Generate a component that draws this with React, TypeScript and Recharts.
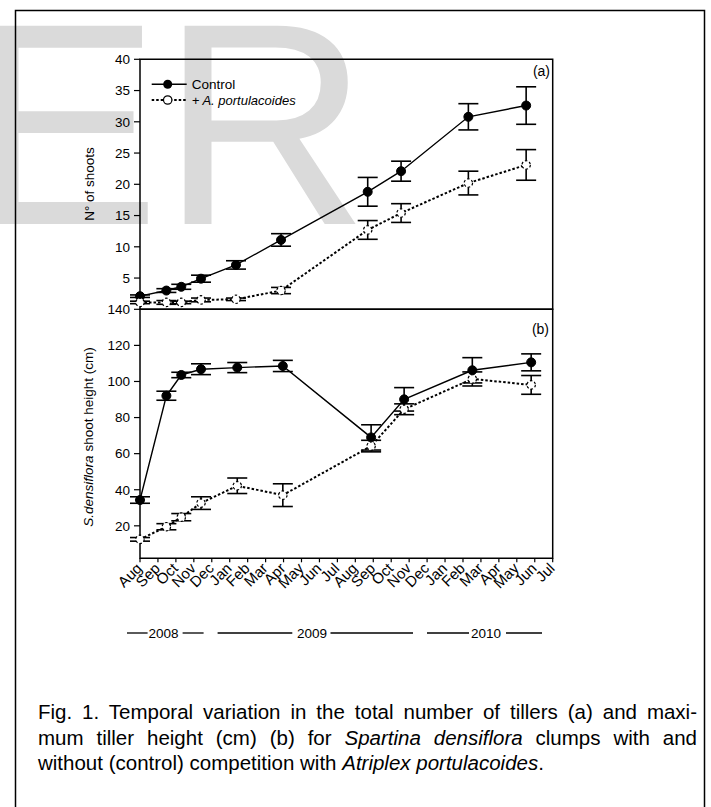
import React from 'react';
import { LineChart, Line, XAxis, YAxis, ErrorBar, ReferenceArea } from 'recharts';

const FONT = '"Liberation Sans", Arial, Helvetica, sans-serif';

const monthLabels = ['Aug', 'Sep', 'Oct', 'Nov', 'Dec', 'Jan', 'Feb', 'Mar', 'Apr', 'May', 'Jun', 'Jul',
  'Aug', 'Sep', 'Oct', 'Nov', 'Dec', 'Jan', 'Feb', 'Mar', 'Apr', 'May', 'Jun', 'Jul'];
const monthTicks = monthLabels.map((_, i) => i);

const shootTicks = [5, 10, 15, 20, 25, 30, 35, 40];
const heightTicks = [20, 40, 60, 80, 100, 120, 140];

// (a) number of shoots
const shootMonths = [0, 1.47, 2.3, 3.4, 5.35, 7.86, 12.69, 14.55, 18.3, 21.52];
const shootControl = [2.1, 3.0, 3.6, 4.9, 7.1, 11.1, 18.8, 22.1, 30.8, 32.6];
const shootControlErr = [0.2, 0.3, 0.4, 0.56, 0.67, 1.0, 2.3, 1.6, 2.1, 3.0];
const shootComp = [1.1, 1.1, 1.1, 1.5, 1.6, 3.0, 12.7, 15.4, 20.2, 23.1];
const shootCompErr = [0.2, 0.3, 0.2, 0.3, 0.2, 0.5, 1.5, 1.5, 1.9, 2.45];

// (b) shoot height
const heightMonths = [0, 1.47, 2.3, 3.4, 5.42, 7.96, 12.88, 14.72, 18.52, 21.8];
const heightControl = [34.3, 92.1, 103.6, 106.8, 107.7, 108.6, 69.0, 90.1, 106.2, 110.6];
const heightControlErr = [1.8, 2.5, 1.5, 3.0, 2.8, 3.1, 7.0, 6.5, 7.0, 4.7];
const heightComp = [12.5, 19.5, 24.8, 32.6, 42.2, 37.0, 64.2, 84.6, 101.4, 98.1];
const heightCompErr = [1.0, 1.7, 2.0, 3.5, 4.3, 6.3, 3.2, 3.0, 3.9, 5.2];

const shootData = shootMonths.map((m, i) => ({
  m, control: shootControl[i], controlErr: shootControlErr[i], comp: shootComp[i], compErr: shootCompErr[i],
}));
const heightData = heightMonths.map((m, i) => ({
  m, control: heightControl[i], controlErr: heightControlErr[i], comp: heightComp[i], compErr: heightCompErr[i],
}));

const MonthTick = (props: any) => {
  const { x, y, payload } = props;
  const px = x + 3;
  const py = y;
  return (
    <text x={px} y={py} transform={`rotate(-45 ${px} ${py})`} textAnchor="end"
      fontSize={15} fontFamily={FONT} fill="#000">
      {monthLabels[payload.value]}
    </text>
  );
};

const tickStyle = { fill: '#000', fontSize: 13.5, fontFamily: FONT };
const lineTick = { stroke: '#000', strokeWidth: 1.2 };

const controlDot = { r: 4.5, fill: '#000', stroke: '#000', strokeWidth: 1 };
const compDot = { r: 4.2, fill: '#fff', stroke: '#000', strokeWidth: 1.2 };

const Panel = ({ data, top, height, plotH, domain, ticks, bottomAxis }: any) => {
  const marginBottom = height - top - plotH - (bottomAxis ? 60 : 0);
  return (
    <LineChart width={711} height={height} data={data}
      margin={{ top, right: 158.3, left: 80, bottom: marginBottom }}>
      {bottomAxis ? (
        <XAxis xAxisId="top" dataKey="m" type="number" domain={[0, 23]} ticks={monthTicks} orientation="top"
          mirror tick={false} tickSize={4} axisLine={false} tickLine={lineTick} interval={0} />
      ) : null}
      {bottomAxis ? (
        <XAxis dataKey="m" type="number" domain={[0, 23]} ticks={monthTicks} height={60} tickSize={4}
          tickMargin={7} axisLine={false} tickLine={lineTick} tick={<MonthTick />} interval={0} />
      ) : (
        <XAxis dataKey="m" type="number" domain={[0, 23]} ticks={monthTicks} orientation="bottom"
          mirror tick={false} tickSize={4} axisLine={false} tickLine={lineTick} interval={0} />
      )}
      <YAxis type="number" domain={domain} ticks={ticks} width={60} tickSize={6} tickMargin={4}
        axisLine={false} tickLine={lineTick} tick={tickStyle} interval={0} allowDataOverflow />
      <ReferenceArea x1={0} x2={23} y1={domain[0]} y2={domain[1]} fill="none" fillOpacity={0}
        stroke="#000" strokeWidth={1.5} ifOverflow="visible" />
      <Line dataKey="control" stroke="#000" strokeWidth={1.4} dot={controlDot} activeDot={false}
        isAnimationActive={false}>
        <ErrorBar dataKey="controlErr" width={10} stroke="#000" strokeWidth={1.6} direction="y" />
      </Line>
      <Line dataKey="comp" stroke="#000" strokeWidth={2} strokeDasharray="2.5 2" dot={compDot}
        activeDot={false} isAnimationActive={false}>
        <ErrorBar dataKey="compErr" width={10} stroke="#000" strokeWidth={1.6} direction="y" />
      </Line>
    </LineChart>
  );
};

export default function App() {
  return (
    <div style={{ position: 'absolute', left: 0, top: 0, width: 711, height: 807, overflow: 'hidden', background: '#fff' }}>
      {/* watermark + frame */}
      <svg width={711} height={807} style={{ position: 'absolute', left: 0, top: 0 }}>
        <text x={-32} y={224} fontSize={288} fontFamily={FONT} fill="#dadada">E</text>
        <text x={161} y={224} fontSize={288} fontFamily={FONT} fill="#dadada">R</text>
        <rect x={15.5} y={10.5} width={689} height={830} fill="none" stroke="#000" strokeWidth={1.5} />
      </svg>

      <div style={{ position: 'absolute', left: 0, top: 0 }}>
        <Panel data={shootData} top={59.3} height={320} plotH={250} domain={[0, 40]} ticks={shootTicks} bottomAxis={false} />
      </div>
      <div style={{ position: 'absolute', left: 0, top: 0 }}>
        <Panel data={heightData} top={309.3} height={650} plotH={249} domain={[2, 140]} ticks={heightTicks} bottomAxis />
      </div>

      {/* annotations */}
      <svg width={711} height={807} style={{ position: 'absolute', left: 0, top: 0 }} fontFamily={FONT}>
        <text transform="translate(94 184) rotate(-90)" textAnchor="middle" fontSize={13.5} fill="#000">N°  of shoots</text>
        <text transform="translate(93 437) rotate(-90)" textAnchor="middle" fontSize={13.5} fill="#000">
          <tspan fontStyle="italic">S.densiflora</tspan> shoot height (cm)
        </text>
        <text x={550} y={75.5} textAnchor="end" fontSize={14} fill="#000">(a)</text>
        <text x={549} y={334} textAnchor="end" fontSize={14} fill="#000">(b)</text>

        {/* legend */}
        <line x1={151.7} y1={84.3} x2={186.7} y2={84.3} stroke="#000" strokeWidth={1.4} />
        <circle cx={167.7} cy={84.3} r={4.5} fill="#000" />
        <text x={191.7} y={89} fontSize={13.5} fill="#000">Control</text>
        <line x1={151.7} y1={100} x2={186.7} y2={100} stroke="#000" strokeWidth={2} strokeDasharray="2.5 2" />
        <circle cx={167.7} cy={100} r={4.2} fill="#fff" stroke="#000" strokeWidth={1.2} />
        <text x={191.7} y={104.7} fontSize={13} fill="#000" fontStyle="italic">+ A. portulacoides</text>

        {/* years */}
        <g stroke="#000" strokeWidth={1.3}>
          <line x1={127} y1={633} x2={147.6} y2={633} />
          <line x1={182.6} y1={633} x2={203.6} y2={633} />
          <line x1={217.6} y1={633} x2={292.3} y2={633} />
          <line x1={330.5} y1={633} x2={413} y2={633} />
          <line x1={427} y1={633} x2={469} y2={633} />
          <line x1={506} y1={633} x2={542} y2={633} />
        </g>
        <text x={163.5} y={637.5} textAnchor="middle" fontSize={13.5} fill="#000">2008</text>
        <text x={312} y={637.5} textAnchor="middle" fontSize={13.5} fill="#000">2009</text>
        <text x={486} y={637.5} textAnchor="middle" fontSize={13.5} fill="#000">2010</text>
      </svg>

      {/* caption */}
      <div style={{ position: 'absolute', left: 38, top: 699, width: 659, fontFamily: FONT, fontSize: 20.5, lineHeight: '25.5px', color: '#000' }}>
        <div style={{ textAlign: 'justify', textAlignLast: 'justify' }}>Fig. 1. Temporal variation in the total number of tillers (a) and maxi-</div>
        <div style={{ textAlign: 'justify', textAlignLast: 'justify' }}>mum tiller height (cm) (b) for <i>Spartina densiflora</i> clumps with and</div>
        <div style={{ textAlign: 'left' }}>without (control) competition with <i>Atriplex portulacoides</i>.</div>
      </div>
    </div>
  );
}
